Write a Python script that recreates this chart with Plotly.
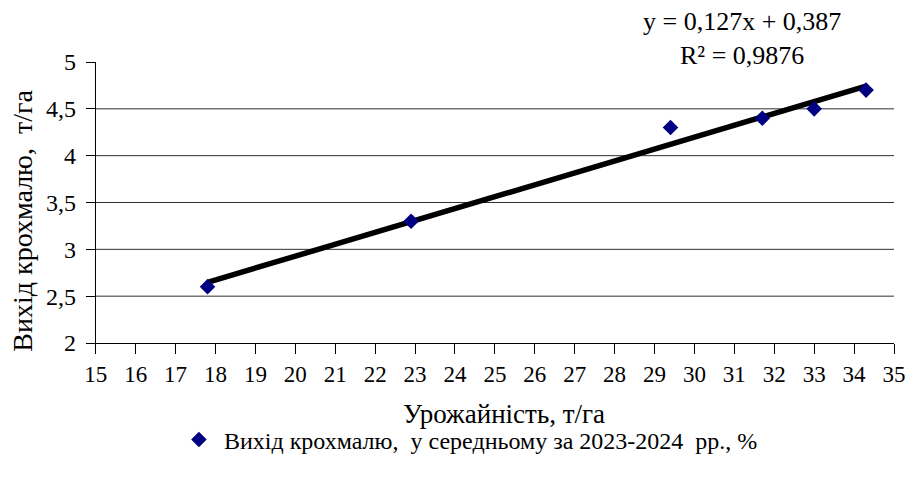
import plotly.graph_objects as go

yield_t_ha = [17.8, 22.9, 29.4, 31.7, 33.0, 34.3]
starch_t_ha = [2.6, 3.3, 4.3, 4.4, 4.5, 4.7]
trend_slope = 0.127
trend_intercept = 0.387
x_ticks = list(range(15, 36))
y_ticks = [2, 2.5, 3, 3.5, 4, 4.5, 5]
y_tick_labels = ["2", "2,5", "3", "3,5", "4", "4,5", "5"]
grid_levels = [2.5, 3, 3.5, 4, 4.5]
series_name = "Вихід крохмалю,  у середньому за 2023-2024  рр., %"
x_title = "Урожайність, т/га"
y_title = "Вихід крохмалю,  т/га"
equation_text = "y = 0,127x + 0,387<br>R² = 0,9876"

FONT = "Liberation Serif, Times New Roman, serif"
X_RANGE = [15, 35]
Y_RANGE = [2, 5]

trend_x = [min(yield_t_ha), max(yield_t_ha)]
trend_y = [trend_slope * v + trend_intercept for v in trend_x]

fig = go.Figure()
fig.add_trace(go.Scatter(x=trend_x, y=trend_y, mode="lines",
                         line=dict(color="black", width=5.5), showlegend=False,
                         hoverinfo="skip"))
fig.add_trace(go.Scatter(x=yield_t_ha, y=starch_t_ha, mode="markers",
                         marker=dict(symbol="diamond", size=12, color="#000080"),
                         name=series_name))
# invisible trace only to activate the label axis
fig.add_trace(go.Scatter(x=[X_RANGE[0]], y=[Y_RANGE[0]], yaxis="y2", mode="markers",
                         marker=dict(opacity=0), showlegend=False, hoverinfo="skip"))

for g in grid_levels:
    fig.add_shape(type="line", xref="x", yref="y", x0=X_RANGE[0], x1=X_RANGE[1], y0=g, y1=g,
                  line=dict(color="#303030", width=1), layer="below")

fig.add_annotation(xref="paper", yref="paper", x=0.8138, y=1.0836,
                   xanchor="center", yanchor="middle",
                   text=equation_text, showarrow=False,
                   font=dict(family=FONT, size=26, color="black"), align="center")
fig.add_annotation(xref="paper", yref="paper", x=0.5236, y=-0.253,
                   xanchor="center", yanchor="middle", text=x_title, showarrow=False,
                   font=dict(family=FONT, size=27, color="black"))
fig.add_annotation(xref="paper", yref="paper", x=-0.0665, y=0.434,
                   xanchor="center", yanchor="middle", textangle=-90,
                   text=y_title, showarrow=False,
                   font=dict(family=FONT, size=28, color="black"))

fig.update_layout(
    width=918, height=483,
    margin=dict(l=76, r=15, t=62, b=140),
    paper_bgcolor="white", plot_bgcolor="white",
    font=dict(family=FONT, color="black"),
    legend=dict(orientation="h", x=0.1197, xanchor="left", y=-0.345, yanchor="middle",
                font=dict(family=FONT, size=24, color="black"), itemwidth=40),
    xaxis=dict(range=X_RANGE, domain=[20 / 827, 1], tickvals=x_ticks, showgrid=False,
               zeroline=False, showline=True, linecolor="black", linewidth=1,
               ticks="outside", ticklen=10, tickcolor="black",
               tickfont=dict(family=FONT, size=23, color="black")),
    yaxis=dict(range=Y_RANGE, tickvals=y_ticks, showticklabels=False, showgrid=False,
               zeroline=False, showline=True, linecolor="black", linewidth=1,
               ticks="outside", ticklen=9, tickcolor="black"),
    yaxis2=dict(range=Y_RANGE, overlaying="y", anchor="free", position=0, side="left",
                tickvals=y_ticks, ticktext=y_tick_labels, showgrid=False, zeroline=False,
                showline=False, ticks="",
                tickfont=dict(family=FONT, size=24, color="black")),
)

fig.write_html("out.html", config={"displayModeBar": False},
               post_script="document.body.style.margin='0';")
